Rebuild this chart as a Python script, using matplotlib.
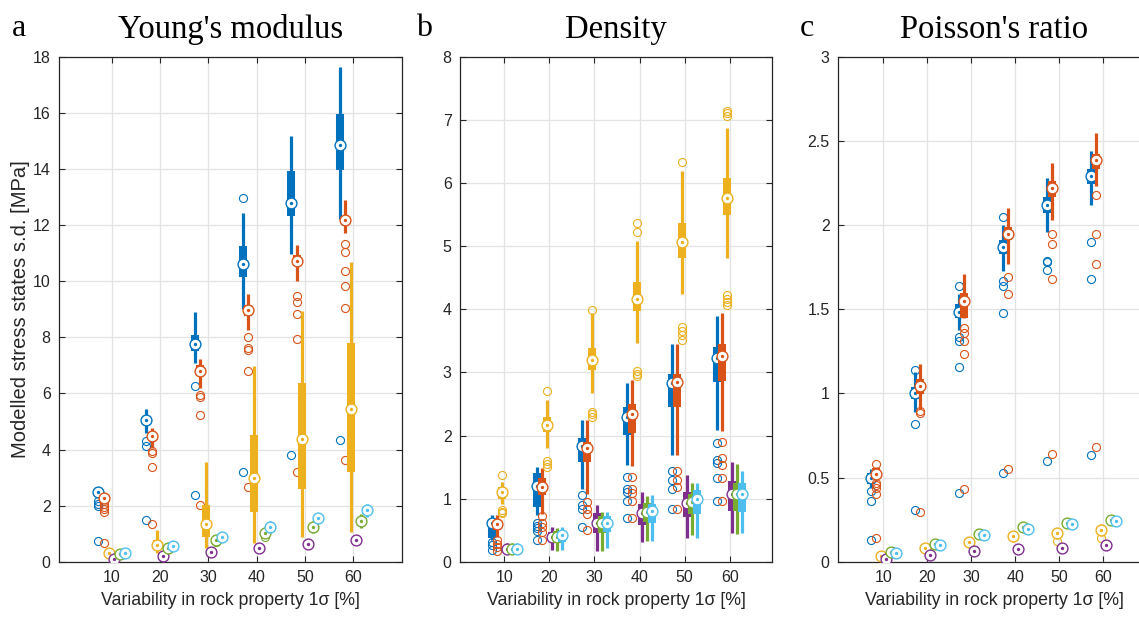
import numpy as np
import matplotlib.pyplot as plt
from matplotlib.ticker import FuncFormatter

plt.rcParams['font.family'] = ['Liberation Sans', 'DejaVu Sans']

groups = [10, 20, 30, 40, 50, 60]
colors = ['#0072BD', '#D95319', '#EDB120', '#7E2F8E', '#77AC30', '#4DBEEE']

# rows = series (6 colours), columns = variability groups 10..60

# Young's modulus [MPa]
ym_lo = [[2.30, 4.58, 7.08, 9.01, 10.98, 12.23],
         [2.12, 4.05, 6.20, 8.28, 10.00, 11.73],
         [0.18, 0.30, 0.48, 0.68, 0.89, 1.07],
         [0.06, 0.14, 0.25, 0.38, 0.50, 0.62],
         [0.18, 0.36, 0.62, 0.90, 1.02, 1.20],
         [0.22, 0.44, 0.72, 1.04, 1.40, 1.60]]
ym_q1 = [[2.38, 4.88, 7.50, 10.16, 12.32, 13.96],
         [2.18, 4.38, 6.61, 8.75, 10.54, 12.02],
         [0.25, 0.50, 0.89, 1.79, 2.59, 3.21],
         [0.09, 0.17, 0.30, 0.45, 0.58, 0.71],
         [0.23, 0.43, 0.72, 0.95, 1.16, 1.36],
         [0.26, 0.50, 0.80, 1.15, 1.50, 1.74]]
ym_med = [[2.47, 5.05, 7.78, 10.61, 12.78, 14.86],
          [2.26, 4.49, 6.81, 8.99, 10.74, 12.19],
          [0.30, 0.61, 1.35, 2.98, 4.37, 5.44],
          [0.11, 0.20, 0.34, 0.50, 0.64, 0.78],
          [0.27, 0.48, 0.78, 1.04, 1.25, 1.46],
          [0.30, 0.56, 0.87, 1.25, 1.57, 1.85]]
ym_q3 = [[2.58, 5.20, 8.10, 11.25, 13.93, 15.98],
         [2.36, 4.62, 7.02, 9.17, 10.95, 12.32],
         [0.36, 0.77, 2.02, 4.52, 6.37, 7.80],
         [0.14, 0.24, 0.39, 0.56, 0.71, 0.86],
         [0.31, 0.54, 0.85, 1.12, 1.35, 1.57],
         [0.34, 0.62, 0.94, 1.35, 1.66, 1.95]]
ym_hi = [[2.66, 5.45, 8.89, 12.44, 15.20, 17.66],
         [2.42, 4.76, 7.23, 9.56, 11.31, 12.89],
         [0.42, 1.13, 3.57, 6.99, 8.93, 10.70],
         [0.17, 0.28, 0.44, 0.63, 0.79, 0.95],
         [0.36, 0.60, 0.93, 1.22, 1.46, 1.70],
         [0.38, 0.68, 1.02, 1.46, 1.75, 2.05]]
ym_out = [[[2.18, 2.06, 1.99, 0.73], [4.32, 4.11, 1.49], [6.25, 2.38], [12.98, 3.21], [3.82], [4.35]],
          [[2.06, 1.96, 1.87, 1.76, 0.66], [3.94, 3.89, 3.39, 1.35], [5.93, 5.89, 5.24, 2.02],
           [8.00, 7.62, 7.54, 6.81, 2.66], [9.49, 9.25, 8.82, 7.96, 3.19],
           [11.34, 11.04, 10.37, 9.82, 9.05, 3.61]],
          [[], [], [], [], [], []],
          [[], [], [], [], [], []],
          [[], [], [0.72], [0.87], [], []],
          [[], [], [], [], [], []]]

# Density
de_lo = [[0.34, 0.74, 1.16, 1.53, 1.69, 2.09],
         [0.39, 0.76, 1.08, 1.52, 1.69, 2.07],
         [0.91, 1.80, 2.68, 3.47, 4.24, 4.81],
         [0.13, 0.18, 0.17, 0.31, 0.38, 0.46],
         [0.13, 0.17, 0.17, 0.33, 0.42, 0.44],
         [0.13, 0.18, 0.21, 0.33, 0.37, 0.45]]
de_q1 = [[0.38, 0.87, 1.58, 2.01, 2.46, 2.85],
         [0.50, 1.06, 1.58, 2.04, 2.46, 2.87],
         [1.00, 2.06, 3.04, 3.97, 4.81, 5.50],
         [0.17, 0.31, 0.45, 0.58, 0.71, 0.81],
         [0.17, 0.30, 0.45, 0.63, 0.75, 0.81],
         [0.17, 0.31, 0.47, 0.62, 0.76, 0.78]]
de_med = [[0.61, 1.20, 1.83, 2.29, 2.83, 3.23],
          [0.60, 1.19, 1.80, 2.34, 2.85, 3.26],
          [1.10, 2.17, 3.19, 4.17, 5.07, 5.77],
          [0.20, 0.39, 0.62, 0.77, 0.93, 1.08],
          [0.20, 0.39, 0.62, 0.79, 0.95, 1.08],
          [0.20, 0.42, 0.62, 0.80, 0.99, 1.08]]
de_q3 = [[0.68, 1.40, 1.96, 2.46, 2.98, 3.41],
         [0.66, 1.32, 1.90, 2.50, 2.98, 3.45],
         [1.19, 2.30, 3.38, 4.43, 5.37, 6.08],
         [0.24, 0.47, 0.77, 0.91, 1.11, 1.28],
         [0.24, 0.48, 0.72, 0.93, 1.08, 1.24],
         [0.24, 0.48, 0.72, 0.91, 1.13, 1.24]]
de_hi = [[0.74, 1.50, 2.24, 2.83, 3.45, 3.90],
         [0.74, 1.48, 2.25, 2.88, 3.45, 3.95],
         [1.27, 2.56, 3.94, 5.09, 6.20, 6.88],
         [0.30, 0.55, 0.90, 1.11, 1.37, 1.58],
         [0.29, 0.53, 0.78, 1.04, 1.25, 1.55],
         [0.29, 0.55, 0.79, 1.05, 1.25, 1.43]]
de_out = [[[0.31, 0.26, 0.18], [0.61, 0.56, 0.53, 0.49, 0.35], [1.06, 0.90, 0.84, 0.55],
           [1.35, 1.16, 1.11, 0.97, 0.69], [1.44, 1.29, 1.16, 0.83], [1.88, 1.61, 1.56, 1.32, 0.96]],
          [[0.34, 0.28, 0.23, 0.17], [0.72, 0.62, 0.55, 0.47, 0.35], [0.95, 0.84, 0.75, 0.50],
           [1.35, 1.16, 1.09, 0.97, 0.70], [1.44, 1.29, 1.19, 0.84], [1.90, 1.64, 1.53, 1.32, 0.96]],
          [[1.38, 0.82, 0.79, 0.77], [2.71, 1.60, 1.55, 1.50], [3.99, 2.38, 2.34, 2.30],
           [5.37, 5.23, 3.02, 2.98, 2.95], [6.34, 3.72, 3.66, 3.60, 3.52],
           [7.14, 7.11, 7.07, 4.22, 4.17, 4.12, 4.07]],
          [[], [], [], [], [], []],
          [[], [], [], [], [], []],
          [[], [], [], [], [], []]]

# Poisson's ratio
pr_lo = [[0.44, 0.89, 1.38, 1.73, 1.96, 2.12],
         [0.485, 0.907, 1.45, 1.77, 2.03, 2.236],
         [0.020, 0.065, 0.100, 0.120, 0.135, 0.150],
         [0.010, 0.030, 0.050, 0.064, 0.070, 0.085],
         [0.050, 0.095, 0.150, 0.190, 0.215, 0.235],
         [0.040, 0.090, 0.145, 0.165, 0.210, 0.228]]
pr_q1 = [[0.46, 0.967, 1.45, 1.83, 2.07, 2.246],
         [0.49, 0.996, 1.45, 1.91, 2.17, 2.336],
         [0.028, 0.073, 0.108, 0.135, 0.140, 0.160],
         [0.014, 0.035, 0.057, 0.070, 0.076, 0.090],
         [0.055, 0.100, 0.156, 0.200, 0.222, 0.243],
         [0.045, 0.095, 0.150, 0.180, 0.218, 0.234]]
pr_med = [[0.50, 1.00, 1.486, 1.87, 2.12, 2.29],
          [0.52, 1.046, 1.55, 1.95, 2.22, 2.39],
          [0.034, 0.080, 0.117, 0.153, 0.170, 0.190],
          [0.018, 0.040, 0.064, 0.077, 0.083, 0.097],
          [0.060, 0.107, 0.163, 0.207, 0.230, 0.250],
          [0.050, 0.100, 0.157, 0.196, 0.226, 0.240]]
pr_q3 = [[0.53, 1.036, 1.53, 1.91, 2.17, 2.336],
         [0.556, 1.086, 1.595, 1.99, 2.26, 2.425],
         [0.040, 0.088, 0.126, 0.170, 0.185, 0.210],
         [0.022, 0.046, 0.070, 0.084, 0.090, 0.105],
         [0.066, 0.114, 0.170, 0.214, 0.238, 0.257],
         [0.055, 0.105, 0.163, 0.205, 0.232, 0.246]]
pr_hi = [[0.55, 1.125, 1.59, 2.00, 2.28, 2.44],
         [0.565, 1.175, 1.71, 2.10, 2.37, 2.55],
         [0.048, 0.095, 0.135, 0.180, 0.195, 0.225],
         [0.026, 0.050, 0.076, 0.090, 0.096, 0.112],
         [0.072, 0.120, 0.176, 0.220, 0.245, 0.264],
         [0.060, 0.110, 0.170, 0.210, 0.240, 0.252]]
pr_out = [[[0.42, 0.36, 0.13], [1.14, 0.82, 0.31], [1.64, 1.333, 1.314, 1.155, 0.41],
           [2.05, 1.67, 1.64, 1.48, 0.526], [1.79, 1.78, 1.736, 0.60], [1.90, 1.68, 0.635]],
          [[0.58, 0.47, 0.456, 0.44, 0.40, 0.143], [0.893, 0.885, 0.298],
           [1.387, 1.357, 1.314, 1.234, 0.43], [1.695, 1.59, 0.55],
           [1.95, 1.89, 1.68, 0.64], [2.18, 1.95, 1.77, 0.68]],
          [[], [], [], [], [0.125], [0.143]],
          [[], [], [], [], [], []],
          [[], [], [], [], [], []],
          [[], [], [], [], [], []]]

W, H = 1139, 617
fig = plt.figure(figsize=(W / 100, H / 100), dpi=100)


def px_axes(left, right, top, bottom):
    return fig.add_axes([left / W, 1 - bottom / H, (right - left) / W, (bottom - top) / H])


def draw_panel(ax, lo, q1, med, q3, hi, out, step):
    for i, c in enumerate(colors):
        pos = np.array(groups) + (i - 2.5) * step
        z = 3 + i
        ax.vlines(pos, lo[i], hi[i], color=c, lw=2.3, zorder=z)
        ax.vlines(pos, q1[i], q3[i], color=c, lw=5.8, zorder=z + 0.1)
        for j, p in enumerate(pos):
            if out[i][j]:
                ax.plot([p] * len(out[i][j]), out[i][j], 'o', ms=5.8, mfc='none',
                        mec=c, mew=0.8, zorder=z + 0.2)
        ax.plot(pos, med[i], 'o', ms=7.8, mfc='white', mec=c, mew=1.0, zorder=z + 0.3)
        ax.plot(pos, med[i], 'o', ms=2.4, mfc=c, mec=c, mew=0, zorder=z + 0.4)


def style(ax, xlim, ylim, yticks):
    ax.set_xlim(xlim)
    ax.set_ylim(ylim)
    ax.set_xticks(groups)
    ax.set_yticks(yticks)
    ax.yaxis.set_major_formatter(FuncFormatter(lambda v, p: '%g' % v))
    ax.grid(True, color='#e3e3e3', lw=0.9)
    ax.set_axisbelow(True)
    ax.tick_params(direction='in', top=True, right=True, length=4, width=0.8,
                   labelsize=11.5, colors='#262626', pad=6)
    for s in ax.spines.values():
        s.set_color('#262626')
        s.set_linewidth(0.9)
    ax.set_xlabel('Variability in rock property 1\u03c3 [%]', fontsize=12.8,
                  color='#262626', labelpad=5)


ax1 = px_axes(59, 402, 57, 561.7)
draw_panel(ax1, ym_lo, ym_q1, ym_med, ym_q3, ym_hi, ym_out, 1.12)
style(ax1, (-0.9, 70.1), (0, 18), np.arange(0, 19, 2))
ax1.set_ylabel('Modelled stress states s.d. [MPa]', fontsize=14.5, color='#262626',
               labelpad=2)

ax2 = px_axes(460, 772, 57, 561.7)
draw_panel(ax2, de_lo, de_q1, de_med, de_q3, de_hi, de_out, 1.12)
style(ax2, (0.15, 69.4), (0, 8), np.arange(0, 9, 1))

# right edge of the third panel is cut off in the original export
ax3 = px_axes(838, 1150, 57, 561.7)
draw_panel(ax3, pr_lo, pr_q1, pr_med, pr_q3, pr_hi, pr_out, 1.14)
style(ax3, (-0.3, 70.6), (0, 3), np.arange(0, 3.01, 0.5))

titles = ["Young's modulus", 'Density', "Poisson's ratio"]
letters = ['a', 'b', 'c']
letter_x = [12, 416, 800]
for ax, t, l, lx in zip([ax1, ax2, ax3], titles, letters, letter_x):
    b = ax.get_position()
    fig.text(b.x0 + b.width / 2, 1 - 38 / H, t, ha='center', va='baseline',
             fontsize=23.5, family='Liberation Serif')
    fig.text(lx / W, 1 - 36 / H, l, ha='left', va='baseline',
             fontsize=23, family='Liberation Serif')

fig.savefig('out.png', dpi=100)
